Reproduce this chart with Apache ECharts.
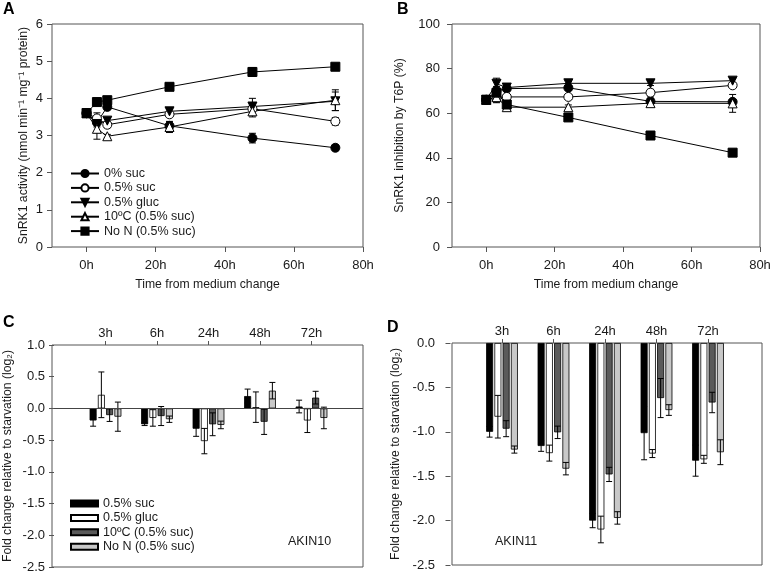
<!DOCTYPE html>
<html><head><meta charset="utf-8">
<script src="https://cdn.jsdelivr.net/npm/echarts@6/dist/echarts.min.js"></script>
<style>html,body{margin:0;padding:0;background:#fff}#c{width:775px;height:574px}</style>
</head><body><div id="c"></div>
<script>
// ---------- data ----------
const times = [0, 3, 6, 24, 48, 72];
const xTicks = [0, 20, 40, 60, 80];
const lineNames = ['0% suc', '0.5% suc', '0.5% gluc', '10ºC (0.5% suc)', 'No N (0.5% suc)'];

// Panel A: SnRK1 activity
const actSuc0  = [3.60, 3.35, 3.77, 3.26, 2.93, 2.67];
const actSuc05 = [3.60, 3.46, 3.29, 3.57, 3.72, 3.38];
const actGluc  = [3.60, 3.31, 3.40, 3.65, 3.78, 3.92];
const act10C   = [3.60, 3.18, 2.98, 3.23, 3.65, 3.95];
const actNoN   = [3.60, 3.90, 3.95, 4.31, 4.71, 4.85];
const actErrSuc0  = [0.10, 0.12, 0.08, 0.10, 0.13, 0.08];
const actErrSuc05 = [0.10, 0.15, 0.08, 0.07, 0.10, 0.10];
const actErrGluc  = [0.10, 0.20, 0.08, 0.06, 0.22, 0.25];
const actErr10C   = [0.10, 0.28, 0.05, 0.15, 0.15, 0.28];
const actErrNoN   = [0.10, 0.10, 0.10, 0.10, 0.12, 0.05];

// Panel B: inhibition by T6P (%)
const inhSuc0  = [66, 70, 71, 71.4, 65.3, 65.1];
const inhSuc05 = [66, 67, 67.3, 67.3, 69.2, 72.5];
const inhGluc  = [66, 73.2, 71.5, 73.4, 73.4, 74.6];
const inh10C   = [66, 67.2, 62.7, 62.7, 64.5, 64.4];
const inhNoN   = [66, 69.2, 63.9, 58.1, 50.0, 42.3];
const inhErrSuc0  = [1, 2, 1, 1, 1.5, 1];
const inhErrSuc05 = [1, 2, 1, 1, 1.5, 1];
const inhErrGluc  = [1, 2.5, 1, 1.2, 1, 1];
const inhErr10C   = [1, 2.5, 1.5, 1, 1.5, 4];
const inhErrNoN   = [1, 1.5, 1, 0.8, 0.8, 0.8];

// Panels C, D: fold change (log2)
const barCats = ['3h', '6h', '24h', '48h', '72h'];
const barNames = ['0.5% suc', '0.5% gluc', '10ºC (0.5% suc)', 'No N (0.5% suc)'];
const akin10Suc  = [-0.19, -0.25, -0.32, 0.195, 0.03];
const akin10Gluc = [0.215, -0.15, -0.515, 0.02, -0.19];
const akin10C10  = [-0.105, -0.12, -0.25, -0.21, 0.17];
const akin10NoN  = [-0.13, -0.17, -0.26, 0.28, -0.15];
const akin10ErrSuc  = [0.09, 0.02, 0.12, 0.11, 0.10];
const akin10ErrGluc = [0.36, 0.13, 0.20, 0.24, 0.19];
const akin10ErrC10  = [0.10, 0.15, 0.18, 0.20, 0.10];
const akin10ErrNoN  = [0.23, 0.05, 0.06, 0.13, 0.17];

const akin11Suc  = [-1.00, -1.16, -2.00, -1.015, -1.325];
const akin11Gluc = [-0.83, -1.24, -2.10, -1.245, -1.31];
const akin11C10  = [-0.965, -1.006, -1.48, -0.62, -0.67];
const akin11NoN  = [-1.20, -1.415, -1.97, -0.755, -1.23];
const akin11ErrSuc  = [0.06, 0.06, 0.08, 0.30, 0.175];
const akin11ErrGluc = [0.24, 0.09, 0.15, 0.045, 0.045];
const akin11ErrC10  = [0.09, 0.07, 0.08, 0.22, 0.115];
const akin11ErrNoN  = [0.04, 0.07, 0.07, 0.06, 0.14];

// ---------- styling ----------
const FONT = 'Liberation Sans, Arial, sans-serif';
const TXT = '#1a1a1a';
const FRAME = '#555';
const BAR_W = 7, BAR_GAP = 0.18;
const barColors = ['#000000', '#ffffff', '#5a5a5a', '#c8c8c8'];
const lineSymbols = [
  {symbol: 'circle', fill: '#000', size: 9, rot: 0},
  {symbol: 'circle', fill: '#fff', size: 9, rot: 0},
  {symbol: 'triangle', fill: '#000', size: 9, rot: 180},
  {symbol: 'triangle', fill: '#fff', size: 9, rot: 0},
  {symbol: 'rect', fill: '#000', size: 9, rot: 0}
];

const chart = echarts.init(document.getElementById('c'), null, {renderer: 'canvas'});

function errRender(offsetFn, capW) {
  return function (params, api) {
    const x = api.value(0), y = api.value(1), e = api.value(2);
    const p = api.coord([x, y]);
    const top = api.coord([x, y + e])[1];
    const bot = api.coord([x, y - e])[1];
    const cx = p[0] + offsetFn();
    const st = {stroke: '#000', lineWidth: 1};
    return {type: 'group', children: [
      {type: 'line', shape: {x1: cx, y1: top, x2: cx, y2: bot}, style: st},
      {type: 'line', shape: {x1: cx - capW / 2, y1: top, x2: cx + capW / 2, y2: top}, style: st},
      {type: 'line', shape: {x1: cx - capW / 2, y1: bot, x2: cx + capW / 2, y2: bot}, style: st}
    ]};
  };
}

const series = [];
function addLinePanel(axisIdx, vals, errs) {
  vals.forEach((v, k) => {
    const s = lineSymbols[k];
    series.push({
      type: 'custom', xAxisIndex: axisIdx, yAxisIndex: axisIdx, z: 1, silent: true,
      renderItem: errRender(() => 0, 7),
      data: times.map((t, i) => [t, v[i], errs[k][i]])
    });
    series.push({
      name: lineNames[k], type: 'line', xAxisIndex: axisIdx, yAxisIndex: axisIdx, z: 3,
      symbol: s.symbol, symbolSize: s.size, symbolRotate: s.rot, showSymbol: true,
      lineStyle: {color: '#000', width: 1},
      itemStyle: {color: s.fill, borderColor: '#000', borderWidth: 1},
      emphasis: {disabled: true},
      data: times.map((t, i) => [t, v[i]])
    });
  });
}
addLinePanel(0, [actSuc0, actSuc05, actGluc, act10C, actNoN],
  [actErrSuc0, actErrSuc05, actErrGluc, actErr10C, actErrNoN]);
addLinePanel(1, [inhSuc0, inhSuc05, inhGluc, inh10C, inhNoN],
  [inhErrSuc0, inhErrSuc05, inhErrGluc, inhErr10C, inhErrNoN]);

function addBarPanel(axisIdx, prefix, vals, errs, zeroLine) {
  vals.forEach((v, k) => {
    const s = {
      name: prefix + barNames[k], type: 'bar', xAxisIndex: axisIdx, yAxisIndex: axisIdx,
      barWidth: BAR_W, barGap: (BAR_GAP * 100) + '%', z: 2,
      itemStyle: {color: barColors[k], borderColor: '#000', borderWidth: 0.8},
      emphasis: {disabled: true},
      data: [null].concat(v, [null])
    };
    if (zeroLine && k === 0) {
      s.markLine = {silent: true, symbol: 'none', label: {show: false},
        lineStyle: {color: '#444', type: 'solid', width: 1},
        data: [{yAxis: 0}]};
    }
    series.push(s);
  });
  vals.forEach((v, k) => {
    series.push({
      type: 'custom', xAxisIndex: axisIdx, yAxisIndex: axisIdx, z: 4, silent: true,
      renderItem: errRender(() => (k - 1.5) * BAR_W * (1 + BAR_GAP), 6),
      data: v.map((y, i) => [i + 1, y, errs[k][i]])
    });
  });
}
addBarPanel(2, 'C:', [akin10Suc, akin10Gluc, akin10C10, akin10NoN],
  [akin10ErrSuc, akin10ErrGluc, akin10ErrC10, akin10ErrNoN], true);
addBarPanel(3, 'D:', [akin11Suc, akin11Gluc, akin11C10, akin11NoN],
  [akin11ErrSuc, akin11ErrGluc, akin11ErrC10, akin11ErrNoN], false);

const tickLabel = {color: TXT, fontFamily: FONT, fontSize: 13};
const nameStyle = {color: TXT, fontFamily: FONT, fontSize: 12.2};

function timeAxis(idx) {
  return {
    type: 'value', gridIndex: idx, min: -10, max: 80,
    axisLine: {show: false, onZero: false}, splitLine: {show: false},
    axisTick: {show: true, inside: false, length: 5, lineStyle: {color: FRAME}, customValues: xTicks},
    axisLabel: Object.assign({margin: 12, formatter: v => v + 'h', customValues: xTicks}, tickLabel),
    name: 'Time from medium change', nameLocation: 'middle', nameGap: 32, nameTextStyle: nameStyle
  };
}
function catAxis(idx) {
  return {
    type: 'category', gridIndex: idx, position: 'top', boundaryGap: false,
    data: [''].concat(barCats, ['']),
    axisLine: {show: false, onZero: false}, splitLine: {show: false},
    axisTick: {show: true, length: 4, lineStyle: {color: FRAME}, interval: (i, v) => v !== ''},
    axisLabel: Object.assign({margin: 5, interval: 0}, tickLabel)
  };
}
function valAxis(idx, min, max, interval, name, gap, margin, fmt) {
  return {
    type: 'value', gridIndex: idx, min: min, max: max, interval: interval,
    axisLine: {show: false, onZero: false}, splitLine: {show: false},
    axisTick: {show: true, length: 5, lineStyle: {color: FRAME}},
    axisLabel: Object.assign({margin: margin, formatter: fmt}, tickLabel),
    name: name, nameLocation: 'middle', nameGap: gap, nameTextStyle: nameStyle
  };
}

const frame = {show: true, borderColor: FRAME, borderWidth: 1, backgroundColor: 'transparent', containLabel: false};
const noFrame = {show: false, containLabel: false};

chart.setOption({
  animation: false,
  backgroundColor: '#fff',
  textStyle: {fontFamily: FONT},
  grid: [
    Object.assign({left: 52, top: 24, width: 311, height: 223}, frame),
    Object.assign({left: 452, top: 24, width: 308, height: 223}, frame),
    Object.assign({left: 54, top: 345, width: 309, height: 222}, noFrame),
    Object.assign({left: 450.5, top: 343, width: 309, height: 222}, noFrame),
    Object.assign({left: 52, top: 345, width: 311, height: 222}, frame),
    Object.assign({left: 452, top: 343, width: 310, height: 222}, frame)
  ],
  xAxis: [timeAxis(0), timeAxis(1), catAxis(2), catAxis(3)],
  yAxis: [
    valAxis(0, 0, 6, 1, 'SnRK1 activity (nmol min⁻¹ mg⁻¹ protein)', 22, 9, v => String(v)),
    valAxis(1, 0, 100, 20, 'SnRK1 inhibition by T6P (%)', 46, 12, v => String(v)),
    valAxis(2, -2.5, 1.0, 0.5, 'Fold change relative to starvation (log₂)', 40, 9, v => v.toFixed(1)),
    valAxis(3, -2.5, 0, 0.5, 'Fold change relative to starvation (log₂)', 48.5, 15.5, v => v.toFixed(1))
  ],
  legend: [
    {orient: 'vertical', left: 70, top: 167, padding: 0, itemWidth: 28, itemHeight: 9, itemGap: 1.4,
     selectedMode: false, data: lineNames, textStyle: {color: TXT, fontFamily: FONT, fontSize: 12.5}},
    {orient: 'vertical', left: 70, top: 497, padding: 0, itemWidth: 27, itemHeight: 6, itemGap: 1.4,
     selectedMode: false, icon: 'rect',
     data: barNames.map(n => 'C:' + n),
     formatter: n => n.replace(/^C:/, ''),
     textStyle: {color: TXT, fontFamily: FONT, fontSize: 12.5}}
  ],
  graphic: [
    {type: 'text', left: 3, top: 2, style: {text: 'A', font: 'bold 16px ' + FONT, fill: '#000'}},
    {type: 'text', left: 397, top: 2, style: {text: 'B', font: 'bold 16px ' + FONT, fill: '#000'}},
    {type: 'text', left: 3, top: 315, style: {text: 'C', font: 'bold 16px ' + FONT, fill: '#000'}},
    {type: 'text', left: 387, top: 320, style: {text: 'D', font: 'bold 16px ' + FONT, fill: '#000'}},
    {type: 'text', left: 288, top: 535, style: {text: 'AKIN10', font: '12.5px ' + FONT, fill: TXT}},
    {type: 'text', left: 495, top: 535, style: {text: 'AKIN11', font: '12.5px ' + FONT, fill: TXT}}
  ],
  series: series
});
</script>
</body></html>
